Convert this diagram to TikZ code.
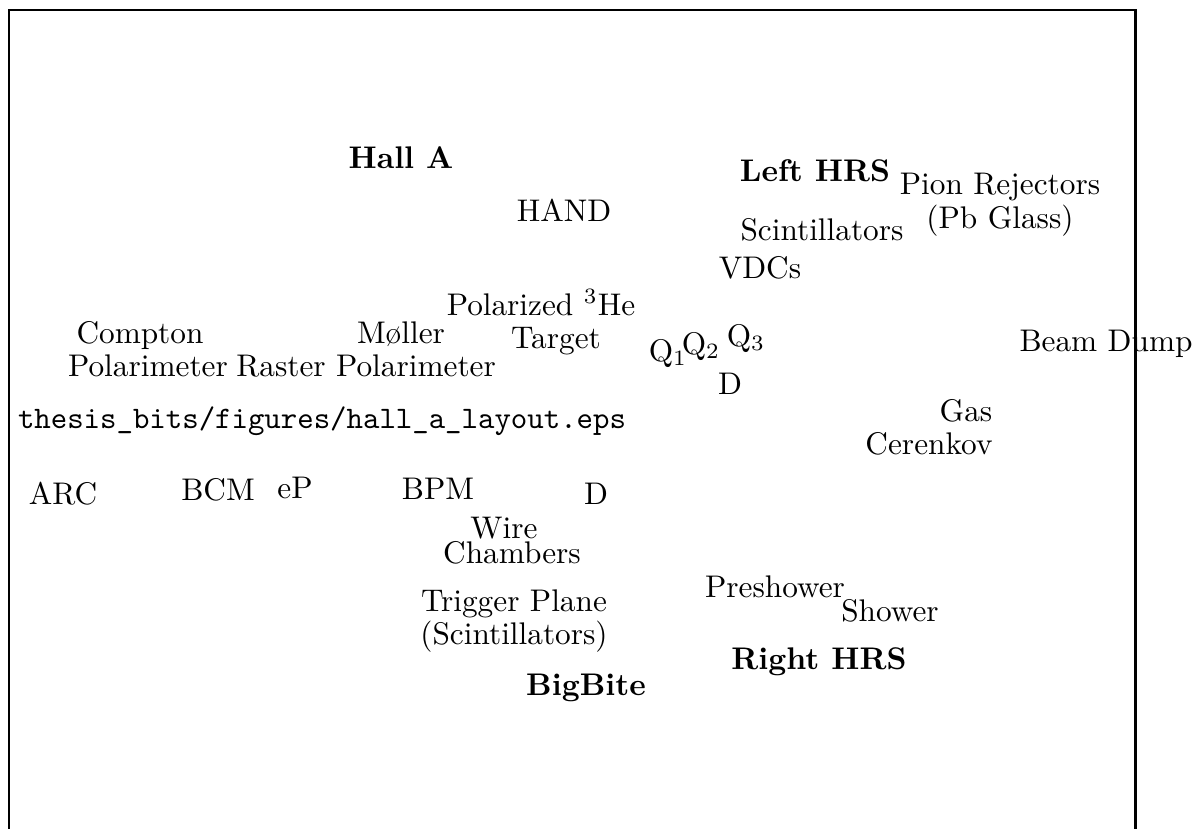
\documentclass[tikz,border=0pt]{standalone}
\begin{document}
\begin{tikzpicture}[x=0.3195pt,y=-0.3195pt,
  lbl/.style={inner sep=0pt,anchor=base},
  blbl/.style={lbl,font=\bfseries},
  frame/.style={line width=0.75pt}]
\useasboundingbox (0,0) rectangle (1197,829);
\coordinate (fbl) at (9,829);
\coordinate (ftl) at (9,10);
\coordinate (ftr) at (1135.5,10);
\coordinate (fbr) at (1135.5,829);
\draw[frame] (fbl) -- (ftl) -- (ftr) -- (fbr);
\node[blbl] (halla) at (401,168) {Hall A};
\node[lbl] (hand) at (564,221) {HAND};
\node[blbl] (lhrs) at (815,181) {Left HRS};
\node[lbl] (pion1) at (1000,194) {Pion Rejectors};
\node[lbl] (pion2) at (1000,228) {(Pb Glass)};
\node[lbl] (scint) at (822,240) {Scintillators};
\node[lbl] (vdc) at (760,278) {VDCs};
\node[lbl] (pol1) at (541,315) {Polarized $^3$He};
\node[lbl] (pol2) at (556,348) {Target};
\node[lbl] (mol1) at (401,343) {M\o ller};
\node[lbl] (mol2) at (416,376) {Polarimeter};
\node[lbl] (comp1) at (140,343) {Compton};
\node[lbl] (comp2) at (148,376) {Polarimeter};
\node[lbl] (raster) at (281,376) {Raster};
\node[lbl] (q1) at (668,361) {Q$_1$};
\node[lbl] (q2) at (701,354) {Q$_2$};
\node[lbl] (q3) at (746,346) {Q$_3$};
\node[lbl] (dl) at (730,394) {D};
\node[lbl] (dump) at (1106,351) {Beam Dump};
\node[lbl] (gas1) at (966,421) {Gas};
\node[lbl] (gas2) at (929,454) {Cerenkov};
\node[lbl,font=\ttfamily] (file) at (322,428) {thesis\_bits/figures/hall\_a\_layout.eps};
\node[lbl] (arc) at (63,504) {ARC};
\node[lbl] (bcm) at (218,500) {BCM};
\node[lbl] (ep) at (295,498) {eP};
\node[lbl] (bpm) at (438,499) {BPM};
\node[lbl] (db) at (596,504) {D};
\node[lbl] (wire1) at (504,538) {Wire};
\node[lbl] (wire2) at (512,563) {Chambers};
\node[lbl] (trig1) at (514,611) {Trigger Plane};
\node[lbl] (trig2) at (514,644) {(Scintillators)};
\node[blbl] (bb) at (586,695) {BigBite};
\node[lbl] (presh) at (775,597) {Preshower};
\node[lbl] (shower) at (890,621) {Shower};
\node[blbl] (rhrs) at (819,669) {Right HRS};
\end{tikzpicture}
\end{document}
